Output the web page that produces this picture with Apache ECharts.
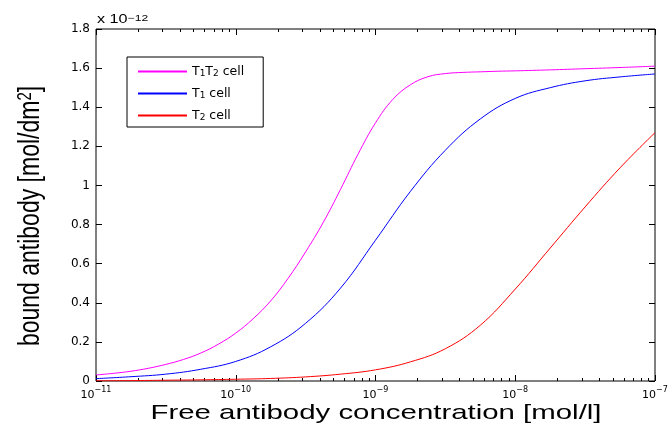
<!DOCTYPE html>
<html lang="en">
<head>
    <meta charset="UTF-8">
    <title>Bound antibody</title>
    <script src="https://cdn.jsdelivr.net/npm/echarts@6/dist/echarts.min.js"></script>
</head>
<body style="margin:0">
<div id="chart" style="width: 672px;height:428px;"></div>
<script type="text/javascript">
    // free antibody concentration [mol/l], quarter-decade steps
    var conc = [1e-11, 1.78e-11, 3.16e-11, 5.62e-11, 1e-10, 1.78e-10, 3.16e-10, 5.62e-10,
        1e-9, 1.78e-9, 3.16e-9, 5.62e-9, 1e-8, 1.78e-8, 3.16e-8, 5.62e-8, 1e-7];
    // the T1T2 curve bends sharply, so it is read on eighth-decade steps up to 1e-8
    var concT1T2 = [1e-11, 1.33e-11, 1.78e-11, 2.37e-11, 3.16e-11, 4.22e-11, 5.62e-11, 7.5e-11,
        1e-10, 1.33e-10, 1.78e-10, 2.37e-10, 3.16e-10, 4.22e-10, 5.62e-10, 7.5e-10,
        1e-9, 1.33e-9, 1.78e-9, 2.37e-9, 3.16e-9, 4.22e-9, 5.62e-9, 7.5e-9,
        1e-8, 1.78e-8, 3.16e-8, 5.62e-8, 1e-7];
    // bound antibody, units of 1e-12 mol/dm^2
    var t1t2 = [0.031, 0.039, 0.05, 0.065, 0.085, 0.11, 0.143, 0.188,
        0.245, 0.318, 0.41, 0.525, 0.66, 0.81, 0.98, 1.16,
        1.32, 1.44, 1.515, 1.556, 1.572, 1.578, 1.581, 1.584,
        1.586, 1.591, 1.597, 1.603, 1.61];
    var t1 = [0.012, 0.022, 0.035, 0.06, 0.10, 0.175, 0.295, 0.475, 0.72, 0.97, 1.18, 1.34,
        1.445, 1.50, 1.535, 1.555, 1.57];
    var t2 = [0.001, 0.002, 0.004, 0.006, 0.009, 0.013, 0.021, 0.035, 0.057, 0.098, 0.165, 0.285,
        0.47, 0.68, 0.89, 1.09, 1.27];
    var seriesNames = ['T1T2 cell', 'T1 cell', 'T2 cell'];
    var seriesColors = ['#ff00ff', '#0000ff', '#ff0000'];
    var yTicks = [0, 0.2, 0.4, 0.6, 0.8, 1, 1.2, 1.4, 1.6, 1.8];
    // minor tick positions (log10) between decades
    var minorTicks = [];
    for (var d = -11; d < -7; d++) {
        for (var m = 2; m <= 9; m++) minorTicks.push(d + Math.log10(m));
    }

    var chart = echarts.init(document.getElementById('chart'));
    var font = 'Liberation Sans, Arial, Helvetica, sans-serif';
    var tickFont = 'DejaVu Sans, sans-serif';

    var legendRich = {
        n: {fontSize: 12.5, fontFamily: tickFont, color: '#000', lineHeight: 13},
        s: {fontSize: 9, fontFamily: tickFont, color: '#000', lineHeight: 13, verticalAlign: 'bottom', padding: [5, 0, 0, 0]}
    };

    var option = {
        animation: false,
        grid: {
            left: 96, right: 17, top: 29, bottom: 47,
            outerBoundsMode: 'none', containLabel: false,
            show: true, borderColor: '#000', borderWidth: 1, backgroundColor: '#fff'
        },
        graphic: [
            {
                type: 'text', x: 97, y: 26, scaleX: 1.35,
                style: {
                    text: 'x 10{s|\u221212}',
                    font: '12px ' + font, fill: '#000',
                    align: 'left', verticalAlign: 'bottom',
                    textAlign: 'left', textVerticalAlign: 'bottom',
                    rich: {s: {fontSize: 9, fontFamily: font, verticalAlign: 'top', fill: '#000'}}
                }
            },
            {
                type: 'text', x: 376, y: 413, scaleX: 1.4,
                style: {
                    text: 'Free antibody concentration [mol/l]',
                    font: '21px ' + font, fill: '#000',
                    align: 'center', verticalAlign: 'middle',
                    textAlign: 'center', textVerticalAlign: 'middle'
                }
            },
            {
                type: 'text', x: 31, y: 216, rotation: Math.PI / 2, scaleY: 1.3,
                style: {
                    text: 'bound antibody [mol/dm{s|2}]',
                    font: '23px ' + font, fill: '#000',
                    align: 'center', verticalAlign: 'middle',
                    textAlign: 'center', textVerticalAlign: 'middle',
                    rich: {s: {fontSize: 15, fontFamily: font, verticalAlign: 'top', fill: '#000'}}
                }
            }
        ],
        legend: {
            orient: 'vertical',
            left: 127, top: 57,
            padding: [7, 19, 5, 11],
            itemGap: 8,
            borderColor: '#000', borderWidth: 1,
            backgroundColor: '#fff',
            icon: 'rect', itemWidth: 49, itemHeight: 2,
            data: seriesNames,
            formatter: function (name) {
                return {
                    'T1T2 cell': '{n|T}{s|1}{n|T}{s|2}{n| cell}',
                    'T1 cell': '{n|T}{s|1}{n| cell}',
                    'T2 cell': '{n|T}{s|2}{n| cell}'
                }[name];
            },
            textStyle: {rich: legendRich}
        },
        xAxis: [
            {
                type: 'log', logBase: 10, min: 1e-11, max: 1e-7,
                position: 'bottom',
                axisLine: {show: false},
                axisTick: {inside: true, length: 6, lineStyle: {color: '#000'}},
                splitLine: {show: false},
                axisLabel: {
                    margin: 5,
                    formatter: function (v) {
                        return '{b|10}{s|' + Math.round(Math.log10(v)).toString().replace('-', '\u2212') + '}';
                    },
                    rich: {
                        b: {fontSize: 11, fontFamily: tickFont, color: '#000', lineHeight: 15, verticalAlign: 'bottom'},
                        s: {fontSize: 8, fontFamily: tickFont, color: '#000', lineHeight: 15, verticalAlign: 'top'}
                    }
                }
            },
            {
                type: 'value', min: -11, max: -7, position: 'bottom',
                axisLine: {show: false}, axisLabel: {show: false}, splitLine: {show: false},
                axisTick: {inside: true, length: 3, customValues: minorTicks, lineStyle: {color: '#000'}}
            },
            {
                type: 'log', logBase: 10, min: 1e-11, max: 1e-7, position: 'top',
                axisLine: {show: false}, axisLabel: {show: false}, splitLine: {show: false},
                axisTick: {inside: true, length: 6, lineStyle: {color: '#000'}}
            },
            {
                type: 'value', min: -11, max: -7, position: 'top',
                axisLine: {show: false}, axisLabel: {show: false}, splitLine: {show: false},
                axisTick: {inside: true, length: 3, customValues: minorTicks, lineStyle: {color: '#000'}}
            }
        ],
        yAxis: [
            {
                type: 'value', min: 0, max: 1.8, interval: 0.2,
                axisLine: {show: false},
                axisTick: {inside: true, length: 6, lineStyle: {color: '#000'}},
                splitLine: {show: false},
                axisLabel: {
                    margin: 6, fontSize: 12, fontFamily: tickFont, color: '#000',
                    customValues: yTicks,
                    formatter: function (v) { return String(Math.round(v * 10) / 10); }
                }
            },
            {
                type: 'value', min: 0, max: 1.8, interval: 0.2, position: 'right',
                axisLine: {show: false}, axisLabel: {show: false}, splitLine: {show: false},
                axisTick: {inside: true, length: 6, lineStyle: {color: '#000'}}
            }
        ],
        series: [
            {x: concT1T2, y: t1t2},
            {x: conc, y: t1},
            {x: conc, y: t2}
        ].map(function (s, i) {
            return {
                name: seriesNames[i],
                type: 'line',
                xAxisIndex: 0, yAxisIndex: 0,
                smooth: 0.4,
                symbol: 'none',
                color: seriesColors[i],
                itemStyle: {color: seriesColors[i]},
                lineStyle: {width: 1, color: seriesColors[i]},
                data: s.x.map(function (c, j) { return [c, s.y[j]]; })
            };
        })
    };

    chart.setOption(option);
</script>
</body>
</html>
